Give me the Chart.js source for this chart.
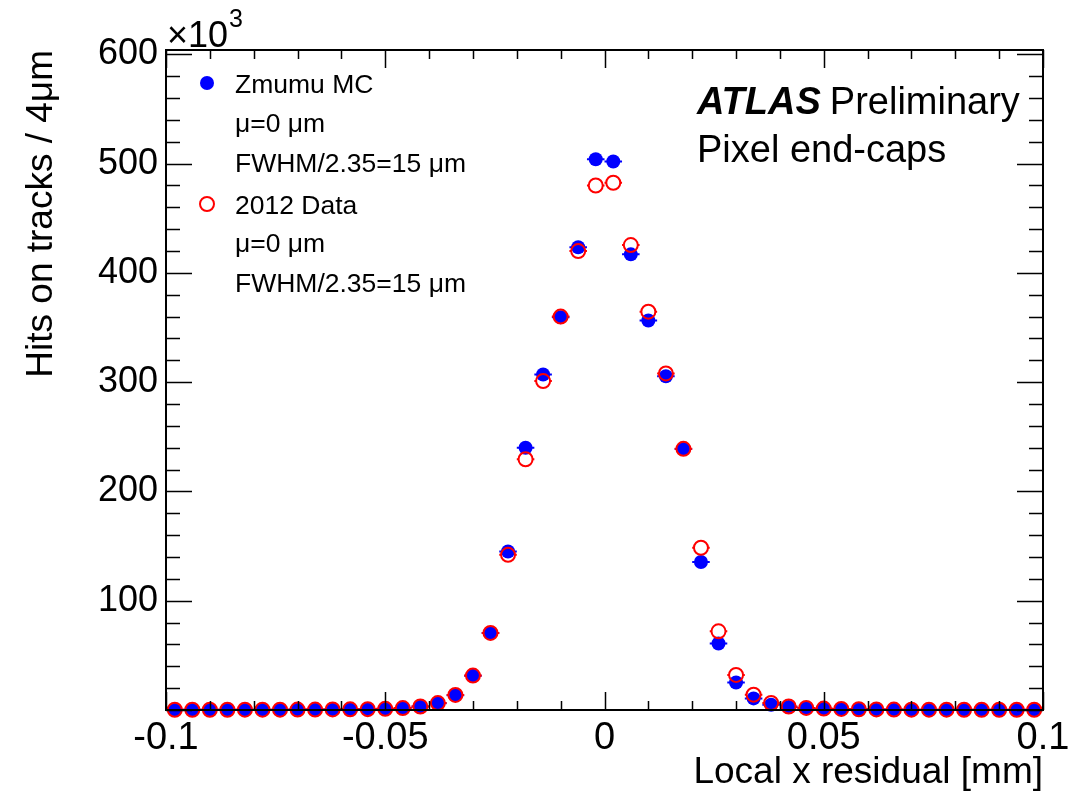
<!DOCTYPE html>
<html>
<head>
<meta charset="utf-8">
<script src="https://cdn.jsdelivr.net/npm/chart.js@4.4.0/dist/chart.umd.min.js"></script>
<style>
  html, body { margin: 0; padding: 0; background: #fff; }
  #residuals { display: block; }
</style>
</head>
<body>
<canvas id="residuals" width="1079" height="795"></canvas>
<script>
// bin centres in mm, 4 um bins
const binCentres = [
  -0.098, -0.094, -0.090, -0.086, -0.082, -0.078, -0.074, -0.070, -0.066, -0.062,
  -0.058, -0.054, -0.050, -0.046, -0.042, -0.038, -0.034, -0.030, -0.026, -0.022,
  -0.018, -0.014, -0.010, -0.006, -0.002, 0.002, 0.006, 0.010, 0.014, 0.018,
  0.022, 0.026, 0.030, 0.034, 0.038, 0.042, 0.046, 0.050, 0.054, 0.058,
  0.062, 0.066, 0.070, 0.074, 0.078, 0.082, 0.086, 0.090, 0.094, 0.098
];
const binHalfWidth = 0.002;

// hits on tracks, x10^3
const mcHits = [
  0.2, 0.2, 0.2, 0.2, 0.3, 0.3, 0.3, 0.4, 0.4, 0.5,
  0.6, 0.8, 1.1, 1.8, 3.2, 6.1, 13.5, 31.3, 70.5, 145,
  240, 307, 359.5, 423.5, 504, 502, 417, 356.5, 305.5, 238.8,
  135.5, 60.8, 25.1, 10.6, 4.8, 2.8, 1.7, 1.2, 0.9, 0.7,
  0.5, 0.4, 0.3, 0.3, 0.3, 0.2, 0.2, 0.2, 0.2, 0.2
];
const dataHits = [
  0.2, 0.2, 0.2, 0.2, 0.3, 0.3, 0.3, 0.4, 0.4, 0.5,
  0.6, 0.8, 1.1, 1.8, 3.2, 6.3, 13.8, 31.5, 70.5, 142,
  229.5, 301, 360, 420, 480, 482.5, 425.5, 364.5, 308, 239,
  148.5, 72, 32.1, 14, 6.4, 3.2, 1.9, 1.3, 1.0, 0.7,
  0.5, 0.4, 0.3, 0.3, 0.3, 0.2, 0.2, 0.2, 0.2, 0.2
];

const xTickValues = [-0.1, -0.05, 0, 0.05, 0.1];
const xTickLabels = ['-0.1', '-0.05', '0', '0.05', '0.1'];
const yTickValues = [100, 200, 300, 400, 500, 600];
const yTickLabels = ['100', '200', '300', '400', '500', '600'];
const xMinorStep = 0.01;
const yMinorStep = 20;

const legendLines = [
  { marker: 0, text: 'Zmumu MC' },
  { marker: null, text: 'μ=0 μm' },
  { marker: null, text: 'FWHM/2.35=15 μm' },
  { marker: 1, text: '2012 Data' },
  { marker: null, text: 'μ=0 μm' },
  { marker: null, text: 'FWHM/2.35=15 μm' }
];

const FONT = '"Liberation Sans", Arial, Helvetica, sans-serif';

const toPoints = (vals) => vals.map((v, i) => ({ x: binCentres[i], y: v }));

// horizontal bin-width bars, stopping at the edge of open markers
const errorBars = {
  id: 'errorBars',
  beforeDatasetDraw(chart, args) {
    const ds = chart.data.datasets[args.index];
    const xs = chart.scales.x;
    const ctx = chart.ctx;
    const gap = ds.hollow ? ds.pointRadius : 0;
    ctx.save();
    ctx.strokeStyle = ds.borderColor;
    ctx.lineWidth = 2;
    ctx.beginPath();
    args.meta.data.forEach((pt, i) => {
      const v = ds.data[i].x;
      const xl = xs.getPixelForValue(v - binHalfWidth);
      const xr = xs.getPixelForValue(v + binHalfWidth);
      ctx.moveTo(xl, pt.y);
      ctx.lineTo(pt.x - gap, pt.y);
      ctx.moveTo(pt.x + gap, pt.y);
      ctx.lineTo(xr, pt.y);
    });
    ctx.stroke();
    ctx.restore();
  }
};

// ROOT style frame with inward ticks on all sides
const frame = {
  id: 'frame',
  afterDatasetsDraw(chart) {
    const { ctx, chartArea: a, scales: { x, y } } = chart;
    ctx.save();
    ctx.strokeStyle = '#000';
    ctx.lineWidth = 2;
    ctx.strokeRect(a.left, a.top, a.right - a.left, a.bottom - a.top);
    ctx.lineWidth = 1.5;
    ctx.beginPath();
    const nx = Math.round((x.max - x.min) / xMinorStep);
    for (let i = 0; i <= nx; i++) {
      const v = x.min + i * xMinorStep;
      const px = Math.round(x.getPixelForValue(v)) + 0.5;
      const len = i % 5 === 0 ? 18 : 9;
      ctx.moveTo(px, a.bottom); ctx.lineTo(px, a.bottom - len);
      ctx.moveTo(px, a.top); ctx.lineTo(px, a.top + len);
    }
    for (let v = 0; v <= y.max; v += yMinorStep) {
      const py = Math.round(y.getPixelForValue(v)) + 0.5;
      const len = v % 100 === 0 ? 26 : 14;
      ctx.moveTo(a.left, py); ctx.lineTo(a.left + len, py);
      ctx.moveTo(a.right, py); ctx.lineTo(a.right - len, py);
    }
    ctx.stroke();
    ctx.restore();
  }
};

const annotations = {
  id: 'annotations',
  afterDraw(chart) {
    const ctx = chart.ctx;
    const a = chart.chartArea;
    ctx.save();
    ctx.fillStyle = '#000';
    ctx.textBaseline = 'alphabetic';
    ctx.textAlign = 'left';

    // x10^3 multiplier
    ctx.font = '36px ' + FONT;
    ctx.fillText('×10', a.left + 1, 47);
    const w = ctx.measureText('×10').width;
    ctx.font = '25px ' + FONT;
    ctx.fillText('3', a.left + 1 + w + 1, 27);

    // legend
    ctx.font = '26.5px ' + FONT;
    const rows = [93, 132, 172, 214, 252, 292];
    legendLines.forEach((ln, i) => {
      const by = rows[i];
      if (ln.marker !== null) {
        const ds = chart.data.datasets[ln.marker];
        const cy = by - 10;
        ctx.beginPath();
        ctx.arc(207, cy, ds.pointRadius, 0, Math.PI * 2);
        if (ds.hollow) {
          ctx.lineWidth = ds.pointBorderWidth;
          ctx.strokeStyle = ds.borderColor;
          ctx.stroke();
        } else {
          ctx.fillStyle = ds.backgroundColor;
          ctx.fill();
        }
        ctx.fillStyle = '#000';
      }
      ctx.fillText(ln.text, 235, by);
    });

    // ATLAS label
    ctx.font = 'italic bold 38px ' + FONT;
    ctx.fillText('ATLAS', 697, 114);
    const aw = ctx.measureText('ATLAS').width;
    ctx.font = '38px ' + FONT;
    ctx.fillText('Preliminary', 697 + aw + 9, 114);
    ctx.fillText('Pixel end-caps', 697, 162);
    ctx.restore();
  }
};

new Chart(document.getElementById('residuals'), {
  type: 'scatter',
  data: {
    datasets: [
      {
        label: 'Zmumu MC',
        data: toPoints(mcHits),
        pointStyle: 'circle',
        pointRadius: 7,
        pointBorderWidth: 0,
        backgroundColor: '#0000ff',
        borderColor: '#0000ff',
        hollow: false,
        clip: false,
        order: 1
      },
      {
        label: '2012 Data',
        data: toPoints(dataHits),
        pointStyle: 'circle',
        pointRadius: 7,
        pointBorderWidth: 2,
        backgroundColor: 'rgba(0,0,0,0)',
        borderColor: '#ff0000',
        hollow: true,
        clip: false,
        order: 0
      }
    ]
  },
  options: {
    responsive: false,
    animation: false,
    devicePixelRatio: 1,
    layout: { padding: { left: 0, right: 36, top: 50, bottom: 0 } },
    plugins: {
      legend: { display: false },
      tooltip: { enabled: false },
      title: { display: false }
    },
    scales: {
      x: {
        type: 'linear',
        min: -0.1,
        max: 0.1,
        grid: { display: false, drawTicks: false },
        border: { display: false },
        afterBuildTicks: (scale) => { scale.ticks = xTickValues.map(v => ({ value: v })); },
        afterFit: (scale) => { scale.height = 85; },
        ticks: {
          autoSkip: false,
          maxRotation: 0,
          padding: 6,
          color: '#000',
          font: { family: FONT, size: 38 },
          callback: (v) => xTickLabels[xTickValues.indexOf(v)]
        },
        title: {
          display: true,
          text: 'Local x residual [mm]',
          align: 'end',
          color: '#000',
          font: { family: FONT, size: 37 },
          padding: { top: 0, bottom: 0 }
        }
      },
      y: {
        type: 'linear',
        min: 0,
        max: 604,
        grid: { display: false, drawTicks: false },
        border: { display: false },
        afterBuildTicks: (scale) => { scale.ticks = yTickValues.map(v => ({ value: v })); },
        afterFit: (scale) => { scale.width = 166; },
        ticks: {
          padding: 8,
          color: '#000',
          font: { family: FONT, size: 36 },
          callback: (v) => yTickLabels[yTickValues.indexOf(v)]
        },
        title: {
          display: true,
          text: 'Hits on tracks / 4μm',
          align: 'end',
          color: '#000',
          font: { family: FONT, size: 37 },
          padding: { top: 20, bottom: 0 }
        }
      }
    }
  },
  plugins: [errorBars, frame, annotations]
});
</script>
</body>
</html>
